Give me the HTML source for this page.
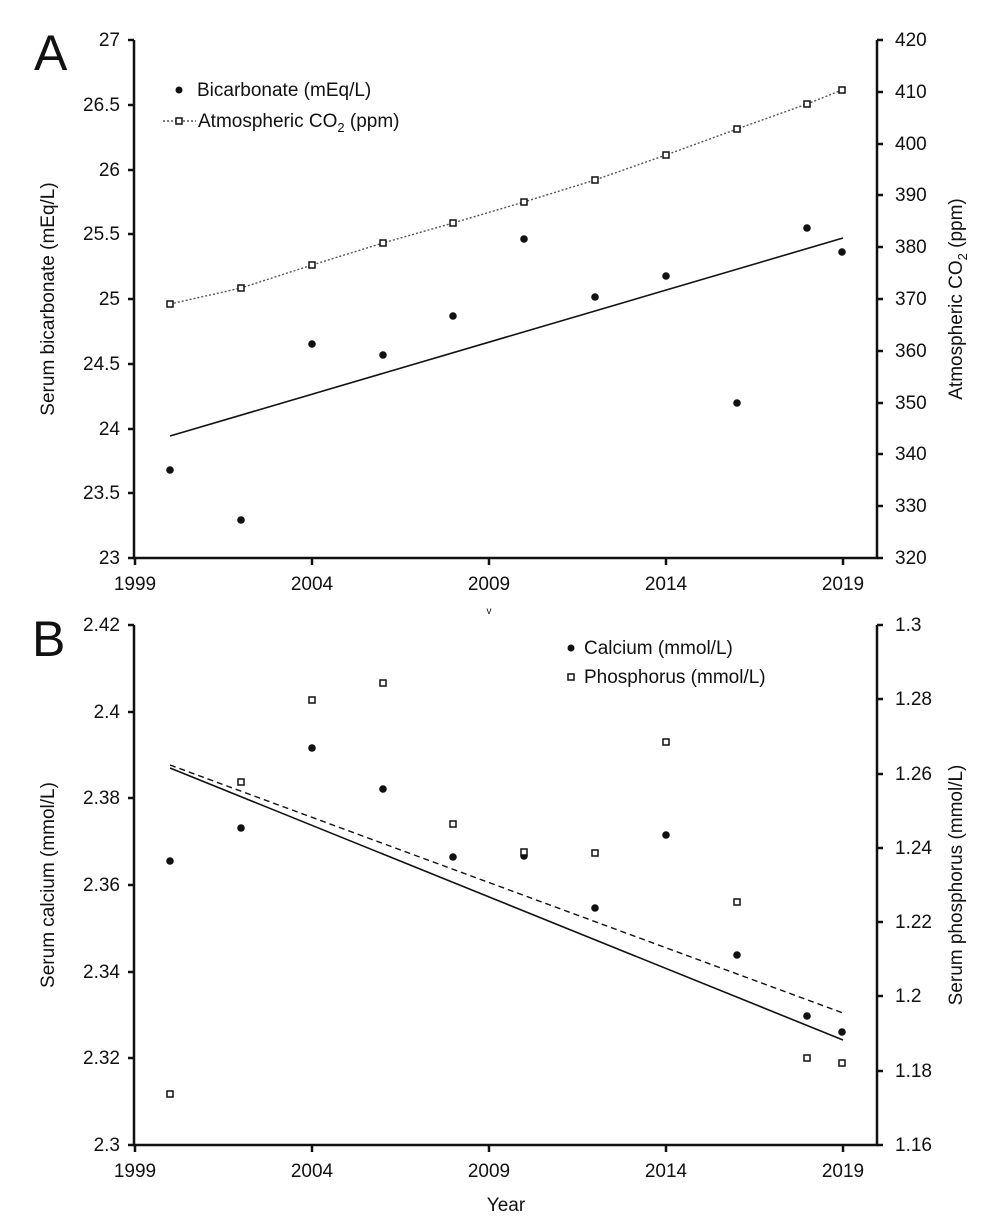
<!DOCTYPE html>
<html><head><meta charset="utf-8"><style>
body{margin:0;background:#fff}
svg{display:block}
text{font-family:"Liberation Sans",Arial,sans-serif;fill:#111}
</style></head><body>
<svg width="990" height="1228" viewBox="0 0 990 1228" xmlns="http://www.w3.org/2000/svg">
<rect width="990" height="1228" fill="#fff"/>
<!-- Panel A -->
<text x="34" y="70" font-size="50">A</text>
<g stroke="#111" stroke-width="2.5" fill="none">
<path d="M134,40 V558 H877 V40"/>
<path d="M128,40H134M128,105H134M128,170H134M128,234H134M128,299H134M128,364H134M128,429H134M128,493H134M128,558H134"/>
<path d="M877,40H883M877,92H883M877,144H883M877,195H883M877,247H883M877,299H883M877,351H883M877,403H883M877,454H883M877,506H883M877,558H883"/>
<path d="M135,558V565M312,558V565M489,558V565M666,558V565M843,558V565"/>
</g>
<g font-size="19" text-anchor="end">
<text x="120" y="46">27</text><text x="120" y="111">26.5</text><text x="120" y="176">26</text><text x="120" y="240">25.5</text><text x="120" y="305">25</text><text x="120" y="370">24.5</text><text x="120" y="435">24</text><text x="120" y="499">23.5</text><text x="120" y="564">23</text>
</g>
<g font-size="19">
<text x="895" y="46">420</text><text x="895" y="98">410</text><text x="895" y="150">400</text><text x="895" y="201">390</text><text x="895" y="253">380</text><text x="895" y="305">370</text><text x="895" y="357">360</text><text x="895" y="409">350</text><text x="895" y="460">340</text><text x="895" y="512">330</text><text x="895" y="564">320</text>
</g>
<g font-size="19" text-anchor="middle">
<text x="135" y="590">1999</text><text x="312" y="590">2004</text><text x="489" y="590">2009</text><text x="666" y="590">2014</text><text x="843" y="590">2019</text>
</g>
<text transform="translate(54,299) rotate(-90)" font-size="19" text-anchor="middle">Serum bicarbonate (mEq/L)</text>
<text transform="translate(962,299) rotate(-90)" font-size="19" text-anchor="middle">Atmospheric CO<tspan font-size="13" dy="5">2</tspan><tspan dy="-5"> (ppm)</tspan></text>
<line x1="170" y1="436" x2="843" y2="238" stroke="#111" stroke-width="1.6"/>
<polyline points="170,304 241,288 312,265 383,243 453,223 524,202 595,180 666,155 737,129 807,104 842,90" fill="none" stroke="#555" stroke-width="1.4" stroke-dasharray="2,2"/>
<g fill="#111">
<circle cx="170" cy="470" r="3.8"/><circle cx="241" cy="520" r="3.8"/><circle cx="312" cy="344" r="3.8"/><circle cx="383" cy="355" r="3.8"/><circle cx="453" cy="316" r="3.8"/><circle cx="524" cy="239" r="3.8"/><circle cx="595" cy="297" r="3.8"/><circle cx="666" cy="276" r="3.8"/><circle cx="737" cy="403" r="3.8"/><circle cx="807" cy="228" r="3.8"/><circle cx="842" cy="252" r="3.8"/>
</g>
<g fill="#fff" stroke="#111" stroke-width="1.5">
<rect x="167" y="301" width="6" height="6"/><rect x="238" y="285" width="6" height="6"/><rect x="309" y="262" width="6" height="6"/><rect x="380" y="240" width="6" height="6"/><rect x="450" y="220" width="6" height="6"/><rect x="521" y="199" width="6" height="6"/><rect x="592" y="177" width="6" height="6"/><rect x="663" y="152" width="6" height="6"/><rect x="734" y="126" width="6" height="6"/><rect x="804" y="101" width="6" height="6"/><rect x="839" y="87" width="6" height="6"/>
</g>
<circle cx="179" cy="90" r="3.5" fill="#111"/>
<text x="197" y="96" font-size="19">Bicarbonate (mEq/L)</text>
<line x1="163" y1="121" x2="196" y2="121" stroke="#555" stroke-width="1.4" stroke-dasharray="2,2"/>
<rect x="176" y="118" width="6" height="6" fill="#fff" stroke="#111" stroke-width="1.5"/>
<text x="198" y="127" font-size="19">Atmospheric CO<tspan font-size="13" dy="5">2</tspan><tspan dy="-5"> (ppm)</tspan></text>
<text x="489" y="614" font-size="10" text-anchor="middle" fill="#888">v</text>

<!-- Panel B -->
<text x="32" y="656" font-size="50">B</text>
<g stroke="#111" stroke-width="2.5" fill="none">
<path d="M134,625 V1145 H877 V625"/>
<path d="M128,625H134M128,712H134M128,798H134M128,885H134M128,972H134M128,1058H134M128,1145H134"/>
<path d="M877,625H883M877,699H883M877,774H883M877,848H883M877,922H883M877,996H883M877,1071H883M877,1145H883"/>
<path d="M135,1145V1152M312,1145V1152M489,1145V1152M666,1145V1152M843,1145V1152"/>
</g>
<g font-size="19" text-anchor="end">
<text x="120" y="631">2.42</text><text x="120" y="718">2.4</text><text x="120" y="804">2.38</text><text x="120" y="891">2.36</text><text x="120" y="978">2.34</text><text x="120" y="1064">2.32</text><text x="120" y="1151">2.3</text>
</g>
<g font-size="19">
<text x="895" y="631">1.3</text><text x="895" y="705">1.28</text><text x="895" y="780">1.26</text><text x="895" y="854">1.24</text><text x="895" y="928">1.22</text><text x="895" y="1002">1.2</text><text x="895" y="1077">1.18</text><text x="895" y="1151">1.16</text>
</g>
<g font-size="19" text-anchor="middle">
<text x="135" y="1177">1999</text><text x="312" y="1177">2004</text><text x="489" y="1177">2009</text><text x="666" y="1177">2014</text><text x="843" y="1177">2019</text>
<text x="506" y="1211">Year</text>
</g>
<text transform="translate(54,885) rotate(-90)" font-size="19" text-anchor="middle">Serum calcium (mmol/L)</text>
<text transform="translate(962,885) rotate(-90)" font-size="19" text-anchor="middle">Serum phosphorus (mmol/L)</text>
<line x1="170" y1="768" x2="843" y2="1040" stroke="#111" stroke-width="1.6"/>
<line x1="170" y1="765" x2="843" y2="1013" stroke="#111" stroke-width="1.4" stroke-dasharray="6,4"/>
<g fill="#111">
<circle cx="170" cy="861" r="3.8"/><circle cx="241" cy="828" r="3.8"/><circle cx="312" cy="748" r="3.8"/><circle cx="383" cy="789" r="3.8"/><circle cx="453" cy="857" r="3.8"/><circle cx="524" cy="856" r="3.8"/><circle cx="595" cy="908" r="3.8"/><circle cx="666" cy="835" r="3.8"/><circle cx="737" cy="955" r="3.8"/><circle cx="807" cy="1016" r="3.8"/><circle cx="842" cy="1032" r="3.8"/>
</g>
<g fill="#fff" stroke="#111" stroke-width="1.5">
<rect x="167" y="1091" width="6" height="6"/><rect x="238" y="779" width="6" height="6"/><rect x="309" y="697" width="6" height="6"/><rect x="380" y="680" width="6" height="6"/><rect x="450" y="821" width="6" height="6"/><rect x="521" y="849" width="6" height="6"/><rect x="592" y="850" width="6" height="6"/><rect x="663" y="739" width="6" height="6"/><rect x="734" y="899" width="6" height="6"/><rect x="804" y="1055" width="6" height="6"/><rect x="839" y="1060" width="6" height="6"/>
</g>
<circle cx="571" cy="648" r="3.5" fill="#111"/>
<text x="584" y="654" font-size="19">Calcium (mmol/L)</text>
<rect x="568" y="674" width="6" height="6" fill="#fff" stroke="#111" stroke-width="1.5"/>
<text x="584" y="683" font-size="19">Phosphorus (mmol/L)</text>
</svg>
</body></html>
